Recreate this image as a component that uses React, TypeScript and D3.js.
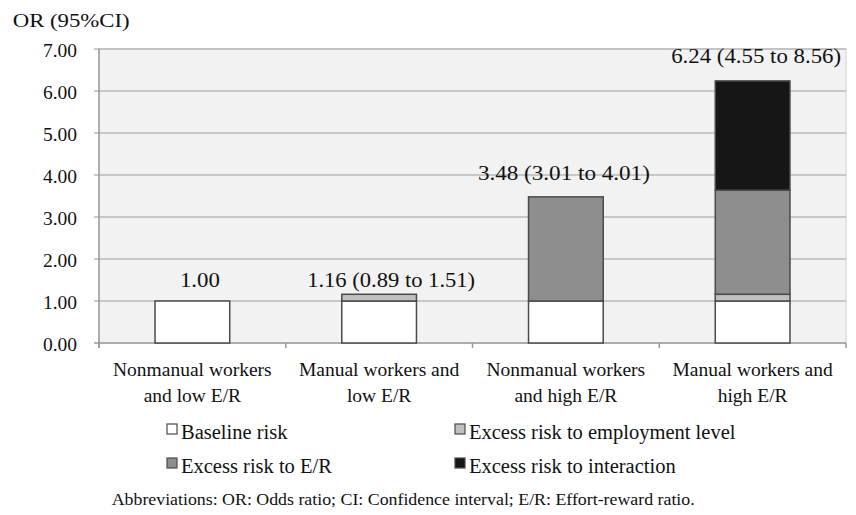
import React from 'react';
import * as d3 from 'd3';

const categoryIds = ['c1', 'c2', 'c3', 'c4'];
const categoryLines = [
  ['Nonmanual workers', 'and low E/R'],
  ['Manual workers and', 'low E/R'],
  ['Nonmanual workers', 'and high E/R'],
  ['Manual workers and', 'high E/R'],
];
const baselineRisk = [1.0, 1.0, 1.0, 1.0];
const excessEmployment = [0, 0.16, 0, 0.16];
const excessER = [0, 0, 2.48, 2.48];
const excessInteraction = [0, 0, 0, 2.6];
const barLabels = ['1.00', '1.16 (0.89 to 1.51)', '3.48 (3.01 to 4.01)', '6.24 (4.55 to 8.56)'];
const yTicks = [0, 1, 2, 3, 4, 5, 6, 7];
const seriesKeys = ['baseline', 'employment', 'er', 'interaction'];
const seriesNames = ['Baseline risk', 'Excess risk to employment level', 'Excess risk to E/R', 'Excess risk to interaction'];
const seriesColors = ['#ffffff', '#c0c0c0', '#8e8e8e', '#161616'];
const yTitle = 'OR (95%CI)';
const footnote = 'Abbreviations: OR: Odds ratio; CI: Confidence interval; E/R: Effort-reward ratio.';

const FONT = '"Liberation Serif", "Times New Roman", serif';

export default function App() {
  const W = 856, H = 515;
  const left = 99, right = 846, top = 49, bottom = 343;

  const x = d3.scaleBand<string>().domain(categoryIds).range([left, right]).paddingInner(0.6).paddingOuter(0.3);
  const y = d3.scaleLinear().domain([0, 7]).range([bottom, top]);

  const rows = categoryIds.map((id, i) => ({
    id,
    baseline: baselineRisk[i],
    employment: excessEmployment[i],
    er: excessER[i],
    interaction: excessInteraction[i],
  }));
  const stacked = d3.stack<any>().keys(seriesKeys)(rows);
  const totals = rows.map(r => r.baseline + r.employment + r.er + r.interaction);

  const step = x.step();
  const boundaries = d3.range(categoryIds.length + 1).map(k => left + k * step);

  const labelDx = [7.5, 12, -2, 3.5];
  const labelDy = [-14.5, -7, -16.5, -18.4];
  const labelW = [40, 168, 172, 170];

  const legendPos = [
    { x: 167, y: 424 },
    { x: 455, y: 424 },
    { x: 167, y: 458 },
    { x: 455, y: 458 },
  ];

  return (
    <svg width={W} height={H} style={{ position: 'absolute', left: 0, top: 0, background: '#fff' }} fontFamily={FONT}>
      <rect x={0} y={0} width={W} height={H} fill="#ffffff" />
      <rect x={left} y={top} width={right - left} height={bottom - top} fill="#f2f2f2" stroke="#d0d0d0" strokeWidth={1} />
      {yTicks.map(t => (
        <g key={t}>
          <line x1={left - 5} x2={right} y1={y(t)} y2={y(t)} stroke={t === 0 ? '#9a9a9a' : '#b9b9b9'} strokeWidth={1.5} />
          <text x={77} y={y(t) + 8} textAnchor="end" fontSize={19.5} fill="#111">{t.toFixed(2)}</text>
        </g>
      ))}
      <line x1={left} x2={left} y1={top} y2={bottom + 5} stroke="#9a9a9a" strokeWidth={1.5} />
      {boundaries.map((bx, i) => (
        <line key={i} x1={bx} x2={bx} y1={bottom} y2={bottom + 5} stroke="#9a9a9a" strokeWidth={1.5} />
      ))}
      {stacked.map((s, si) => (
        <g key={s.key}>
          {s.map((d, i) => {
            const h = y(d[0]) - y(d[1]);
            if (h <= 0) return null;
            return (
              <rect key={i} x={x(categoryIds[i])!} y={y(d[1])} width={x.bandwidth()} height={h}
                fill={seriesColors[si]} stroke="#4a4a4a" strokeWidth={1.5} />
            );
          })}
        </g>
      ))}
      {barLabels.map((lab, i) => (
        <text key={i} x={x(categoryIds[i])! + x.bandwidth() / 2 + labelDx[i]} y={y(totals[i]) + labelDy[i]}
          textAnchor="middle" fontSize={20} fill="#111" textLength={labelW[i]} lengthAdjust="spacingAndGlyphs">{lab}</text>
      ))}
      {categoryLines.map((lines, i) => (
        <text key={i} textAnchor="middle" fontSize={19.5} fill="#111">
          {lines.map((ln, j) => (
            <tspan key={j} x={x(categoryIds[i])! + x.bandwidth() / 2} y={376 + j * 26}>{ln}</tspan>
          ))}
        </text>
      ))}
      <text x={12.7} y={27} fontSize={19.5} fill="#111" textLength={117} lengthAdjust="spacingAndGlyphs">{yTitle}</text>
      {seriesNames.map((name, i) => (
        <g key={i}>
          <rect x={legendPos[i].x} y={legendPos[i].y} width={10} height={10} fill={seriesColors[i]} stroke="#4a4a4a" strokeWidth={1.2} />
          <text x={legendPos[i].x + 14} y={legendPos[i].y + 14.5} fontSize={20.5} fill="#111">{name}</text>
        </g>
      ))}
      <text x={111.7} y={505} fontSize={16.5} fill="#111" textLength={583} lengthAdjust="spacingAndGlyphs">{footnote}</text>
    </svg>
  );
}
